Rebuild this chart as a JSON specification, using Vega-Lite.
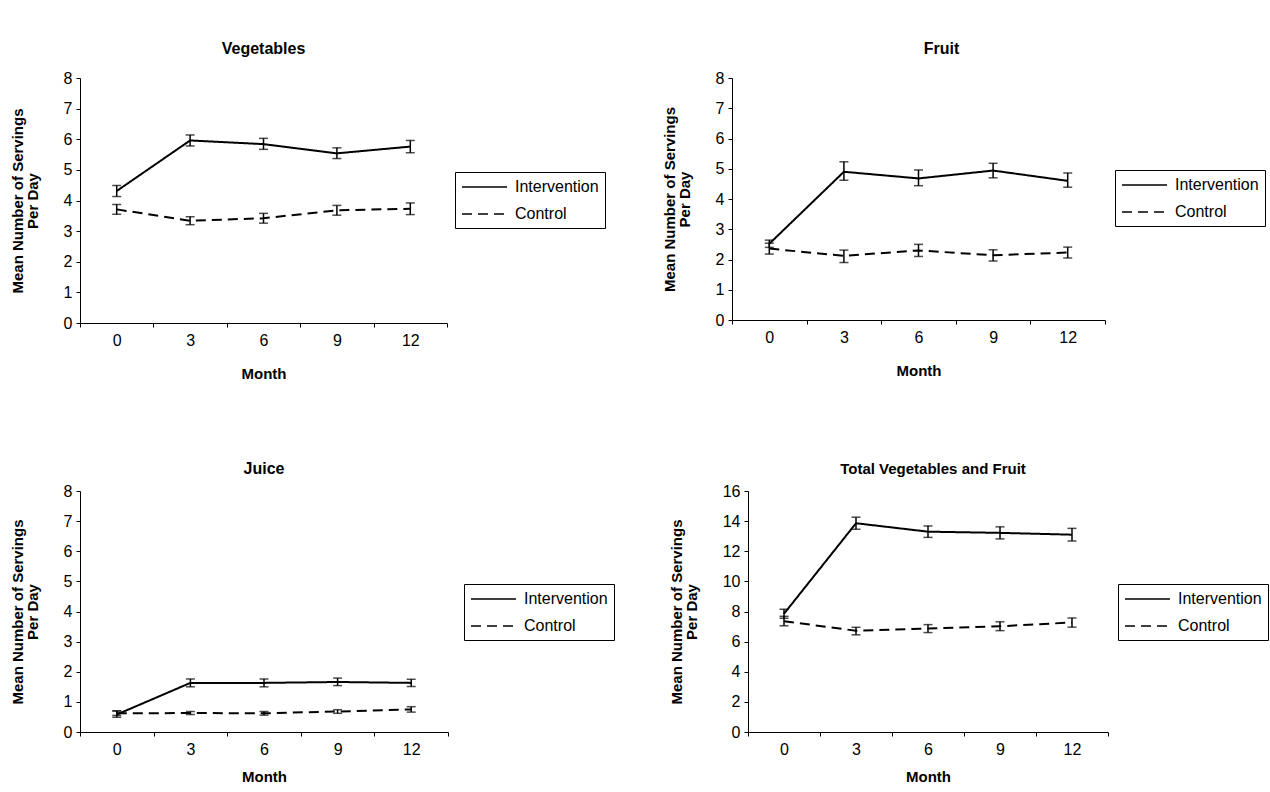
{
  "$schema": "https://vega.github.io/schema/vega-lite/v6.json",
  "padding": {"left": 10, "top": 41, "right": 5, "bottom": 5},
  "background": "white",
  "config": {
    "font": "Liberation Sans",
    "view": {"stroke": null},
    "axis": {"domainColor": "black", "tickColor": "black", "labelColor": "black", "titleColor": "black", "grid": false, "labelFontSize": 16, "labelFont": "Liberation Sans", "titleFont": "Liberation Sans", "tickSize": 4, "domainWidth": 1},
    "axisX": {"tickBand": "extent", "labelAngle": 0, "labelPadding": 5, "titleFontSize": 15, "titleFontWeight": "bold", "titlePadding": 18},
    "axisY": {"labelPadding": 4, "titleFontSize": 15, "titleFontWeight": "bold", "titlePadding": 23, "titleLineHeight": 15},
    "legend": {"strokeColor": "black", "padding": 6, "labelFontSize": 16, "labelFont": "Liberation Sans", "labelColor": "black", "labelOffset": 36, "symbolType": "M-1,0H4.625", "symbolSize": 256, "symbolStrokeWidth": 1.5, "symbolStrokeColor": "black", "rowPadding": 10, "title": null, "orient": "none"},
    "title": {"font": "Liberation Sans", "fontSize": 16, "fontWeight": "bold", "color": "black", "offset": 13}
  },
  "datasets": {
    "d": [
      {"panel": "Vegetables", "group": "Intervention", "month": 0, "mean": 4.31, "lo": 4.13, "hi": 4.49},
      {"panel": "Vegetables", "group": "Intervention", "month": 3, "mean": 5.96, "lo": 5.78, "hi": 6.14},
      {"panel": "Vegetables", "group": "Intervention", "month": 6, "mean": 5.84, "lo": 5.67, "hi": 6.03},
      {"panel": "Vegetables", "group": "Intervention", "month": 9, "mean": 5.54, "lo": 5.37, "hi": 5.72},
      {"panel": "Vegetables", "group": "Intervention", "month": 12, "mean": 5.76, "lo": 5.56, "hi": 5.96},
      {"panel": "Vegetables", "group": "Control", "month": 0, "mean": 3.71, "lo": 3.55, "hi": 3.87},
      {"panel": "Vegetables", "group": "Control", "month": 3, "mean": 3.34, "lo": 3.21, "hi": 3.47},
      {"panel": "Vegetables", "group": "Control", "month": 6, "mean": 3.42, "lo": 3.26, "hi": 3.58},
      {"panel": "Vegetables", "group": "Control", "month": 9, "mean": 3.68, "lo": 3.52, "hi": 3.84},
      {"panel": "Vegetables", "group": "Control", "month": 12, "mean": 3.73, "lo": 3.54, "hi": 3.92},
      {"panel": "Fruit", "group": "Intervention", "month": 0, "mean": 2.52, "lo": 2.4, "hi": 2.64},
      {"panel": "Fruit", "group": "Intervention", "month": 3, "mean": 4.9, "lo": 4.62, "hi": 5.23},
      {"panel": "Fruit", "group": "Intervention", "month": 6, "mean": 4.68, "lo": 4.44, "hi": 4.96},
      {"panel": "Fruit", "group": "Intervention", "month": 9, "mean": 4.94, "lo": 4.7, "hi": 5.18},
      {"panel": "Fruit", "group": "Intervention", "month": 12, "mean": 4.6, "lo": 4.39, "hi": 4.86},
      {"panel": "Fruit", "group": "Control", "month": 0, "mean": 2.36, "lo": 2.18, "hi": 2.54},
      {"panel": "Fruit", "group": "Control", "month": 3, "mean": 2.12, "lo": 1.9, "hi": 2.31},
      {"panel": "Fruit", "group": "Control", "month": 6, "mean": 2.3, "lo": 2.1, "hi": 2.5},
      {"panel": "Fruit", "group": "Control", "month": 9, "mean": 2.14, "lo": 1.95, "hi": 2.32},
      {"panel": "Fruit", "group": "Control", "month": 12, "mean": 2.23, "lo": 2.05, "hi": 2.41},
      {"panel": "Juice", "group": "Intervention", "month": 0, "mean": 0.58, "lo": 0.49, "hi": 0.7},
      {"panel": "Juice", "group": "Intervention", "month": 3, "mean": 1.63, "lo": 1.5, "hi": 1.76},
      {"panel": "Juice", "group": "Intervention", "month": 6, "mean": 1.63, "lo": 1.5, "hi": 1.76},
      {"panel": "Juice", "group": "Intervention", "month": 9, "mean": 1.66, "lo": 1.54, "hi": 1.79},
      {"panel": "Juice", "group": "Intervention", "month": 12, "mean": 1.63, "lo": 1.51, "hi": 1.75},
      {"panel": "Juice", "group": "Control", "month": 0, "mean": 0.62, "lo": 0.55, "hi": 0.7},
      {"panel": "Juice", "group": "Control", "month": 3, "mean": 0.63, "lo": 0.58, "hi": 0.68},
      {"panel": "Juice", "group": "Control", "month": 6, "mean": 0.62, "lo": 0.56, "hi": 0.68},
      {"panel": "Juice", "group": "Control", "month": 9, "mean": 0.68, "lo": 0.62, "hi": 0.74},
      {"panel": "Juice", "group": "Control", "month": 12, "mean": 0.75, "lo": 0.66, "hi": 0.84},
      {"panel": "Total", "group": "Intervention", "month": 0, "mean": 7.85, "lo": 7.55, "hi": 8.15},
      {"panel": "Total", "group": "Intervention", "month": 3, "mean": 13.86, "lo": 13.46, "hi": 14.26},
      {"panel": "Total", "group": "Intervention", "month": 6, "mean": 13.3, "lo": 12.92, "hi": 13.68},
      {"panel": "Total", "group": "Intervention", "month": 9, "mean": 13.22, "lo": 12.82, "hi": 13.62},
      {"panel": "Total", "group": "Intervention", "month": 12, "mean": 13.1, "lo": 12.68, "hi": 13.52},
      {"panel": "Total", "group": "Control", "month": 0, "mean": 7.36, "lo": 7.05, "hi": 7.68},
      {"panel": "Total", "group": "Control", "month": 3, "mean": 6.72, "lo": 6.45, "hi": 6.95},
      {"panel": "Total", "group": "Control", "month": 6, "mean": 6.87, "lo": 6.6, "hi": 7.13},
      {"panel": "Total", "group": "Control", "month": 9, "mean": 7.02, "lo": 6.73, "hi": 7.32},
      {"panel": "Total", "group": "Control", "month": 12, "mean": 7.27, "lo": 6.96, "hi": 7.57}
    ]
  },
  "vconcat": [
    {
      "hconcat": [
        {
          "title": {"text": "Vegetables"},
          "width": 367, "height": 245,
          "data": {"name": "d"},
          "transform": [{"filter": "datum.panel === 'Vegetables'"}],
          "encoding": {"x": {"field": "month", "type": "ordinal", "sort": "ascending", "scale": {"type": "band", "paddingInner": 0, "paddingOuter": 0}, "axis": {"title": "Month"}}},
          "layer": [
            {"mark": {"type": "line", "color": "black", "strokeWidth": 2}, "encoding": {"y": {"field": "mean", "type": "quantitative", "scale": {"domain": [0, 8]}, "axis": {"tickCount": 8, "title": ["Mean Number of Servings", "Per Day"]}}, "strokeDash": {"field": "group", "type": "nominal", "scale": {"domain": ["Intervention", "Control"], "range": [[1, 0], [10, 6]]}, "legend": {"legendX": 375, "legendY": 94}}}},
            {"mark": {"type": "rule", "color": "black", "strokeWidth": 1.5}, "encoding": {"y": {"field": "lo", "type": "quantitative", "axis": {"tickCount": 8, "title": ["Mean Number of Servings", "Per Day"]}}, "y2": {"field": "hi"}}},
            {"mark": {"type": "tick", "color": "black", "size": 9, "thickness": 1.5}, "encoding": {"y": {"field": "lo", "type": "quantitative", "axis": {"tickCount": 8, "title": ["Mean Number of Servings", "Per Day"]}}}},
            {"mark": {"type": "tick", "color": "black", "size": 9, "thickness": 1.5}, "encoding": {"y": {"field": "hi", "type": "quantitative", "axis": {"tickCount": 8, "title": ["Mean Number of Servings", "Per Day"]}}}}
          ]
        },
        {
          "title": {"text": "Fruit", "dx": 23},
          "width": 373, "height": 242,
          "data": {"name": "d"},
          "transform": [{"filter": "datum.panel === 'Fruit'"}],
          "encoding": {"x": {"field": "month", "type": "ordinal", "sort": "ascending", "scale": {"type": "band", "paddingInner": 0, "paddingOuter": 0}, "axis": {"title": "Month"}}},
          "layer": [
            {"mark": {"type": "line", "color": "black", "strokeWidth": 2}, "encoding": {"y": {"field": "mean", "type": "quantitative", "scale": {"domain": [0, 8]}, "axis": {"tickCount": 8, "title": ["Mean Number of Servings", "Per Day"]}}, "strokeDash": {"field": "group", "type": "nominal", "scale": {"domain": ["Intervention", "Control"], "range": [[1, 0], [10, 6]]}, "legend": {"legendX": 383, "legendY": 92}}}},
            {"mark": {"type": "rule", "color": "black", "strokeWidth": 1.5}, "encoding": {"y": {"field": "lo", "type": "quantitative", "axis": {"tickCount": 8, "title": ["Mean Number of Servings", "Per Day"]}}, "y2": {"field": "hi"}}},
            {"mark": {"type": "tick", "color": "black", "size": 9, "thickness": 1.5}, "encoding": {"y": {"field": "lo", "type": "quantitative", "axis": {"tickCount": 8, "title": ["Mean Number of Servings", "Per Day"]}}}},
            {"mark": {"type": "tick", "color": "black", "size": 9, "thickness": 1.5}, "encoding": {"y": {"field": "hi", "type": "quantitative", "axis": {"tickCount": 8, "title": ["Mean Number of Servings", "Per Day"]}}}}
          ]
        }
      ],
      "spacing": 56,
      "resolve": {"scale": {"strokeDash": "independent"}, "legend": {"strokeDash": "independent"}}
    },
    {
      "hconcat": [
        {
          "title": {"text": "Juice", "offset": 6},
          "width": 368, "height": 241,
          "data": {"name": "d"},
          "transform": [{"filter": "datum.panel === 'Juice'"}],
          "encoding": {"x": {"field": "month", "type": "ordinal", "sort": "ascending", "scale": {"type": "band", "paddingInner": 0, "paddingOuter": 0}, "axis": {"title": "Month", "titlePadding": 12}}},
          "layer": [
            {"mark": {"type": "line", "color": "black", "strokeWidth": 2}, "encoding": {"y": {"field": "mean", "type": "quantitative", "scale": {"domain": [0, 8]}, "axis": {"tickCount": 8, "title": ["Mean Number of Servings", "Per Day"]}}, "strokeDash": {"field": "group", "type": "nominal", "scale": {"domain": ["Intervention", "Control"], "range": [[1, 0], [10, 6]]}, "legend": {"legendX": 384, "legendY": 93}}}},
            {"mark": {"type": "rule", "color": "black", "strokeWidth": 1.5}, "encoding": {"y": {"field": "lo", "type": "quantitative", "axis": {"tickCount": 8, "title": ["Mean Number of Servings", "Per Day"]}}, "y2": {"field": "hi"}}},
            {"mark": {"type": "tick", "color": "black", "size": 9, "thickness": 1.5}, "encoding": {"y": {"field": "lo", "type": "quantitative", "axis": {"tickCount": 8, "title": ["Mean Number of Servings", "Per Day"]}}}},
            {"mark": {"type": "tick", "color": "black", "size": 9, "thickness": 1.5}, "encoding": {"y": {"field": "hi", "type": "quantitative", "axis": {"tickCount": 8, "title": ["Mean Number of Servings", "Per Day"]}}}}
          ]
        },
        {
          "title": {"text": "Total Vegetables and Fruit", "fontSize": 15, "offset": 6, "dx": 5},
          "width": 360, "height": 241,
          "data": {"name": "d"},
          "transform": [{"filter": "datum.panel === 'Total'"}],
          "encoding": {"x": {"field": "month", "type": "ordinal", "sort": "ascending", "scale": {"type": "band", "paddingInner": 0, "paddingOuter": 0}, "axis": {"title": "Month", "titlePadding": 12}}},
          "layer": [
            {"mark": {"type": "line", "color": "black", "strokeWidth": 2}, "encoding": {"y": {"field": "mean", "type": "quantitative", "scale": {"domain": [0, 16]}, "axis": {"values": [0, 2, 4, 6, 8, 10, 12, 14, 16], "title": ["Mean Number of Servings", "Per Day"]}}, "strokeDash": {"field": "group", "type": "nominal", "scale": {"domain": ["Intervention", "Control"], "range": [[1, 0], [10, 6]]}, "legend": {"legendX": 370, "legendY": 93}}}},
            {"mark": {"type": "rule", "color": "black", "strokeWidth": 1.5}, "encoding": {"y": {"field": "lo", "type": "quantitative", "axis": {"values": [0, 2, 4, 6, 8, 10, 12, 14, 16], "title": ["Mean Number of Servings", "Per Day"]}}, "y2": {"field": "hi"}}},
            {"mark": {"type": "tick", "color": "black", "size": 9, "thickness": 1.5}, "encoding": {"y": {"field": "lo", "type": "quantitative", "axis": {"values": [0, 2, 4, 6, 8, 10, 12, 14, 16], "title": ["Mean Number of Servings", "Per Day"]}}}},
            {"mark": {"type": "tick", "color": "black", "size": 9, "thickness": 1.5}, "encoding": {"y": {"field": "hi", "type": "quantitative", "axis": {"values": [0, 2, 4, 6, 8, 10, 12, 14, 16], "title": ["Mean Number of Servings", "Per Day"]}}}}
          ]
        }
      ],
      "spacing": 54,
      "resolve": {"scale": {"strokeDash": "independent"}, "legend": {"strokeDash": "independent"}}
    }
  ],
  "spacing": 80,
  "resolve": {"scale": {"strokeDash": "independent"}, "legend": {"strokeDash": "independent"}}
}
